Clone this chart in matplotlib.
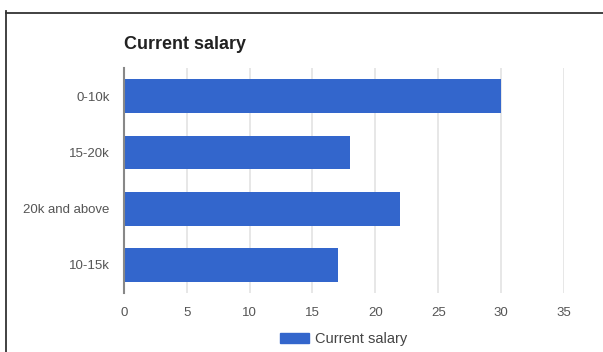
import matplotlib
matplotlib.use("Agg")
import matplotlib.pyplot as plt
from matplotlib.lines import Line2D
from matplotlib.patches import Patch

categories = ["0-10k", "15-20k", "20k and above", "10-15k"]
values = [30, 18, 22, 17]
x_ticks = [0, 5, 10, 15, 20, 25, 30, 35]
series_name = "Current salary"
title = "Current salary"

plt.rcParams["font.family"] = ["Liberation Sans", "DejaVu Sans"]

W, H = 603, 352
fig = plt.figure(figsize=(W / 100, H / 100), dpi=100)
fig.patch.set_facecolor("white")

left, right, top, bottom = 123.7, 564, 68, 293
ax = fig.add_axes([left / W, 1 - bottom / H, (right - left) / W, (bottom - top) / H])

bar_color = "#3366cc"
y = list(range(len(categories)))
ax.barh(y, values, height=0.6, color=bar_color, zorder=3)
ax.set_ylim(len(categories) - 0.5, -0.5)
ax.set_xlim(0, 35)

ax.set_xticks(x_ticks)
ax.set_xticklabels([str(t) for t in x_ticks])
ax.set_yticks(y)
ax.set_yticklabels(categories)
ax.tick_params(axis="both", length=0, labelsize=9.5, colors="#555555")
ax.tick_params(axis="x", pad=10)
ax.tick_params(axis="y", pad=10)

ax.grid(axis="x", color="#e3e3e3", linewidth=1.2, zorder=0)
ax.grid(axis="y", visible=False)
for s in ["top", "right", "bottom"]:
    ax.spines[s].set_visible(False)
ax.spines["left"].set_color("#888888")
ax.spines["left"].set_linewidth(1.5)
ax.spines["left"].set_zorder(4)

fig.text(left / W, 1 - 49 / H, title, fontsize=13, fontweight="bold",
         color="#222222", ha="left", va="baseline")

handle = Patch(facecolor=bar_color, edgecolor=bar_color)
fig.legend([handle], [series_name], loc="center", bbox_to_anchor=(343.5 / W, 1 - 339 / H),
           frameon=False, fontsize=10.5, labelcolor="#444444",
           handlelength=2.0, handleheight=0.75, handletextpad=0.4)

# frame lines along the top and left edges
fig.add_artist(Line2D([6 / W, 1], [1 - 13 / H, 1 - 13 / H], color="#333333", linewidth=1.3))
fig.add_artist(Line2D([6 / W, 6 / W], [0, 1 - 11 / H], color="#333333", linewidth=1.3))

fig.savefig("out.png", dpi=100, facecolor="white")
